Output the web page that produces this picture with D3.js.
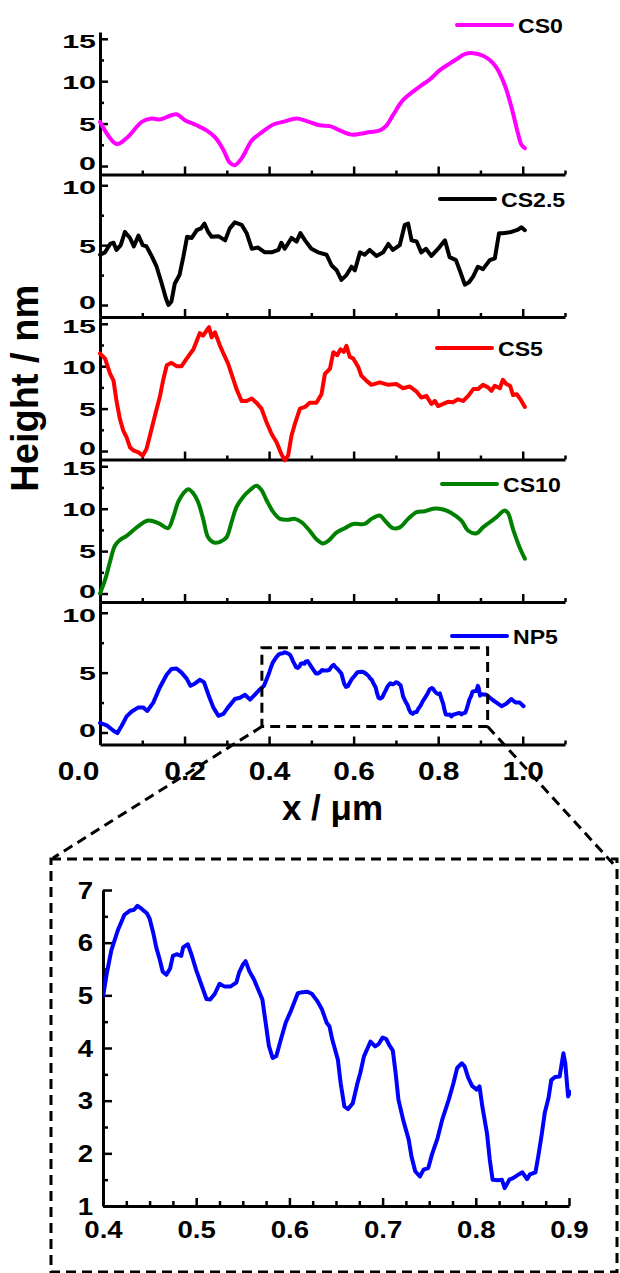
<!DOCTYPE html>
<html>
<head>
<meta charset="utf-8">
<script src="https://cdn.jsdelivr.net/npm/d3@7"></script>
<style>
  html, body { margin: 0; padding: 0; background: #fff; }
  svg { display: block; }
  text { font-family: Arial, "Liberation Sans", sans-serif; font-weight: bold; }
</style>
</head>
<body>
<svg id="chart" width="620" height="1273"></svg>
<script>
// ---------------- DATA ----------------
const seriesNames = ["CS0", "CS2.5", "CS5", "CS10", "NP5"];
const seriesColors = ["#FF00FF", "#000000", "#FF0000", "#008000", "#0000FF"];

const cs0 = [[0,5.2],[0.039,2.6],[0.063,3.3],[0.099,5.2],[0.122,5.6],[0.142,5.5],[0.181,6.1],[0.201,5.4],
  [0.229,4.8],[0.252,4.2],[0.272,3.4],[0.292,1.9],[0.307,0.4],[0.319,0.1],[0.335,0.9],[0.359,3.0],[0.378,3.8],
  [0.41,4.9],[0.433,5.2],[0.465,5.6],[0.489,5.3],[0.52,4.8],[0.544,4.7],[0.567,4.2],[0.595,3.7],[0.615,3.8],
  [0.638,4.0],[0.662,4.2],[0.678,4.8],[0.693,6.0],[0.717,7.8],[0.741,8.8],[0.757,9.4],[0.78,10.2],[0.804,11.3],
  [0.828,12.1],[0.847,12.7],[0.863,13.2],[0.883,13.3],[0.906,13.0],[0.922,12.5],[0.938,11.6],[0.957,9.6],
  [0.973,7.0],[0.989,3.8],[0.997,2.5],[1.005,2.1]];

const cs25 = [[0,4.2],[0.012,4.4],[0.024,5.1],[0.032,5.2],[0.039,4.6],[0.049,5.0],[0.059,6.1],[0.071,5.6],
  [0.08,4.9],[0.091,5.8],[0.101,5.0],[0.11,4.9],[0.122,4.1],[0.134,3.2],[0.146,1.8],[0.156,0.55],[0.162,0.0],
  [0.169,0.3],[0.177,1.8],[0.188,2.5],[0.197,4.0],[0.206,5.7],[0.217,5.6],[0.229,6.25],[0.239,6.4],[0.247,6.8],
  [0.256,6.1],[0.264,5.7],[0.28,5.75],[0.296,5.4],[0.307,6.4],[0.319,6.9],[0.335,6.7],[0.347,6.0],[0.359,4.7],
  [0.374,4.8],[0.39,4.4],[0.406,4.4],[0.422,4.6],[0.429,5.2],[0.437,4.7],[0.453,5.6],[0.465,5.3],[0.474,6.0],
  [0.485,5.4],[0.5,4.7],[0.516,4.4],[0.536,4.2],[0.548,3.3],[0.56,2.9],[0.571,2.1],[0.583,2.5],[0.595,3.2],
  [0.603,2.9],[0.615,4.4],[0.626,4.2],[0.638,4.6],[0.654,4.1],[0.67,4.4],[0.682,5.1],[0.693,4.6],[0.709,5.0],
  [0.721,6.7],[0.729,6.8],[0.737,5.4],[0.749,5.3],[0.76,4.4],[0.771,4.7],[0.784,4.1],[0.8,4.7],[0.816,5.4],
  [0.827,4.0],[0.842,3.75],[0.851,2.9],[0.863,1.7],[0.873,1.9],[0.883,2.4],[0.894,3.2],[0.906,3.0],[0.922,3.75],
  [0.934,3.9],[0.944,6.0],[0.953,6.0],[0.973,6.1],[0.989,6.3],[0.997,6.5],[1.005,6.25]];

const cs5 = [[0,11.5],[0.012,10.9],[0.024,9.1],[0.032,8.3],[0.039,5.9],[0.047,3.8],[0.055,2.4],[0.063,1.6],
  [0.071,0.43],[0.08,0.04],[0.091,-0.16],[0.101,-0.55],[0.11,0.24],[0.118,1.8],[0.13,4.2],[0.142,6.5],[0.15,8.5],
  [0.158,10.1],[0.169,10.4],[0.181,10.0],[0.193,10.0],[0.205,10.9],[0.221,12.0],[0.229,13.0],[0.236,13.9],
  [0.244,13.6],[0.252,14.2],[0.258,14.6],[0.264,13.4],[0.272,14.0],[0.284,12.4],[0.292,11.5],[0.303,10.3],
  [0.315,8.5],[0.323,7.3],[0.335,5.9],[0.347,5.9],[0.359,6.2],[0.37,5.7],[0.382,5.0],[0.394,3.4],[0.406,2.0],
  [0.418,1.0],[0.429,-0.35],[0.437,-1.1],[0.445,-0.55],[0.453,1.8],[0.461,3.2],[0.473,5.0],[0.485,5.2],
  [0.496,5.7],[0.512,5.7],[0.524,6.7],[0.532,9.1],[0.544,9.7],[0.552,11.65],[0.561,11.3],[0.569,12.0],
  [0.577,11.7],[0.583,12.4],[0.591,11.1],[0.599,10.9],[0.611,9.9],[0.618,8.9],[0.63,8.3],[0.642,7.8],
  [0.662,8.1],[0.682,7.8],[0.701,7.9],[0.717,7.4],[0.733,7.6],[0.749,7.0],[0.76,6.3],[0.772,6.5],[0.784,5.55],
  [0.792,5.9],[0.8,5.3],[0.812,5.55],[0.823,5.8],[0.835,5.75],[0.847,6.1],[0.859,5.9],[0.871,6.5],[0.883,7.3],
  [0.894,7.3],[0.906,7.8],[0.918,7.5],[0.926,7.1],[0.934,7.7],[0.946,7.4],[0.953,8.4],[0.961,7.9],[0.97,7.7],
  [0.977,6.6],[0.986,6.7],[0.997,5.9],[1.005,5.2]];

const cs10 = [[0,0],[0.012,1.6],[0.024,3.8],[0.035,5.6],[0.047,6.3],[0.063,6.8],[0.087,7.8],[0.114,8.6],
  [0.138,8.3],[0.161,7.7],[0.173,9.0],[0.185,10.8],[0.197,11.8],[0.209,12.3],[0.221,11.8],[0.232,10.8],
  [0.244,8.8],[0.256,6.6],[0.27,6.0],[0.284,6.1],[0.299,6.6],[0.311,8.4],[0.323,10.2],[0.339,11.4],[0.355,12.2],
  [0.37,12.7],[0.382,12.2],[0.394,11.0],[0.41,9.6],[0.426,8.8],[0.445,8.7],[0.461,8.8],[0.477,8.4],[0.496,7.4],
  [0.512,6.4],[0.528,5.9],[0.54,6.2],[0.56,7.2],[0.579,7.7],[0.599,8.2],[0.626,8.2],[0.642,8.8],[0.662,9.2],
  [0.674,8.6],[0.693,7.7],[0.709,7.8],[0.729,8.8],[0.749,9.6],[0.768,9.7],[0.788,10.0],[0.812,9.9],[0.831,9.5],
  [0.855,8.6],[0.871,7.4],[0.891,7.1],[0.906,7.8],[0.922,8.4],[0.938,9.0],[0.957,9.8],[0.965,9.5],[0.977,7.6],
  [0.993,5.4],[1.005,4.1]];

const np5 = [[0,0.8],[0.016,0.6],[0.032,0.15],[0.041,-0.05],[0.051,0.55],[0.063,1.35],[0.075,1.75],[0.091,2.1],
  [0.102,2.1],[0.112,1.8],[0.126,2.5],[0.142,3.8],[0.158,4.85],[0.169,5.3],[0.181,5.35],[0.193,5.0],[0.205,4.5],
  [0.214,3.9],[0.225,4.1],[0.236,4.4],[0.246,4.2],[0.256,3.2],[0.268,2.1],[0.28,1.4],[0.292,1.55],[0.303,2.1],
  [0.319,2.8],[0.331,2.9],[0.343,3.15],[0.355,2.75],[0.366,3.15],[0.378,3.6],[0.388,3.9],
  [0.4,4.97],[0.404,5.41],[0.409,5.86],[0.416,6.24],[0.423,6.53],[0.429,6.61],[0.433,6.62],[0.437,6.7],
  [0.441,6.65],[0.447,6.56],[0.45,6.46],[0.454,6.18],[0.457,5.92],[0.461,5.67],[0.464,5.45],[0.468,5.39],
  [0.472,5.51],[0.475,5.75],[0.479,5.78],[0.484,5.75],[0.486,5.91],[0.491,5.97],[0.495,5.77],[0.5,5.48],
  [0.505,5.23],[0.511,4.93],[0.515,4.92],[0.52,5.03],[0.525,5.22],[0.53,5.17],[0.537,5.17],[0.543,5.24],
  [0.546,5.43],[0.55,5.58],[0.553,5.65],[0.557,5.46],[0.562,5.3],[0.568,5.05],[0.571,4.92],[0.575,4.42],
  [0.578,4.04],[0.582,3.81],[0.586,3.85],[0.591,4.17],[0.596,4.48],[0.602,4.72],[0.609,5.04],[0.614,5.06],
  [0.619,5.07],[0.624,5.03],[0.63,4.89],[0.635,4.73],[0.64,4.48],[0.643,4.41],[0.646,4.16],[0.652,3.78],
  [0.655,3.33],[0.659,2.89],[0.663,2.84],[0.668,2.95],[0.673,3.33],[0.676,3.52],[0.68,3.84],[0.684,4.0],
  [0.687,4.12],[0.692,4.03],[0.696,4.08],[0.7,4.2],[0.704,4.17],[0.707,4.06],[0.711,3.95],[0.714,3.52],
  [0.717,3.02],[0.722,2.64],[0.728,2.26],[0.731,1.94],[0.735,1.66],[0.74,1.56],[0.744,1.69],[0.749,1.72],
  [0.753,1.98],[0.759,2.29],[0.764,2.64],[0.771,3.02],[0.776,3.33],[0.78,3.62],[0.785,3.71],[0.788,3.65],
  [0.792,3.43],[0.796,3.28],[0.801,3.21],[0.804,3.27],[0.807,2.89],[0.812,2.38],[0.815,1.88],[0.818,1.5],
  [0.824,1.49],[0.828,1.5],[0.831,1.34],[0.836,1.5],[0.84,1.53],[0.846,1.6],[0.85,1.64],[0.855,1.51],
  [0.858,1.6],[0.864,1.64],[0.867,1.94],[0.871,2.39],[0.874,2.77],[0.878,3.05],[0.881,3.39],[0.885,3.45],
  [0.89,3.46],[0.894,3.9],[0.896,3.71],[0.899,3.08],[0.902,3.2],[0.914,3.15],[0.926,2.8],[0.938,2.5],
  [0.95,2.2],[0.961,2.4],[0.973,2.8],[0.983,2.5],[0.993,2.5],[1.002,2.2]];

const seriesData = [cs0, cs25, cs5, cs10, np5];

// axis ticks / labels
const xMajorTicks = [0, 0.2, 0.4, 0.6, 0.8, 1.0];
const xMinorTicks = [0.1, 0.3, 0.5, 0.7, 0.9, 1.1];
const yTicksTall = [0, 5, 10, 15];
const yMinorTall = [2.5, 7.5, 12.5];
const yTicksShort = [0, 5, 10];
const yMinorShort = [2.5, 7.5];
const insetXTicks = [0.4, 0.5, 0.6, 0.7, 0.8, 0.9];
const insetXMinor = [0.425, 0.45, 0.475, 0.525, 0.55, 0.575, 0.625, 0.65, 0.675, 0.725, 0.75, 0.775, 0.825, 0.85, 0.875];
const insetYTicks = [1, 2, 3, 4, 5, 6, 7];
const insetYMinor = [1.5, 2.5, 3.5, 4.5, 5.5, 6.5];
const zoomBox = { x0: 0.383, x1: 0.917, y0: 0.5, y1: 7.08 };
const xTitle = "x / \u03BCm";
const yTitle = "Height / nm";

// ---------------- LAYOUT ----------------
const svg = d3.select("#chart");
const left = 100, right = 565, top0 = 32, panelH = 142.5;
const domainsY = [[-1, 15.8], [-1, 10.9], [-1, 15.8], [-1, 15.8], [-1, 10.9]];
const tallPanel = [true, false, true, true, false];
const legendPos = [[457, 25], [440, 199], [437, 348], [442, 484], [452, 636]];
const curves = [d3.curveCatmullRom.alpha(0.5), d3.curveLinear, d3.curveLinear, d3.curveCatmullRom.alpha(0.5), d3.curveLinear];

const x = d3.scaleLinear().domain([0, 1.1]).range([left, right]);

function styleAxis(g, w) {
  g.attr("font-family", null).attr("font-size", null);
  g.selectAll("path.domain").attr("stroke", "#000").attr("stroke-width", w || 3);
  g.selectAll(".tick line").attr("stroke", "#000").attr("stroke-width", 2.5);
}

const yScales = [];
seriesNames.forEach((name, i) => {
  const pTop = top0 + i * panelH, pBot = pTop + panelH;
  const y = d3.scaleLinear().domain(domainsY[i]).range([pBot, pTop]);
  yScales.push(y);
  const g = svg.append("g");

  // left axis major
  const yMaj = tallPanel[i] ? yTicksTall : yTicksShort;
  const yMin = tallPanel[i] ? yMinorTall : yMinorShort;
  const topTick = yMaj[yMaj.length - 1];
  const ga = g.append("g").attr("transform", `translate(${left},0)`)
    .call(d3.axisLeft(y).tickValues(yMaj).tickSizeInner(-8).tickSizeOuter(0).tickPadding(0).tickFormat(d3.format("d")));
  styleAxis(ga);
  ga.selectAll(".tick text").attr("font-size", 19).attr("fill", "#000")
    .attr("x", 0).attr("dy", "0.36em")
    .attr("transform", d => `translate(-4,${d === 0 ? -3 : (d === topTick ? 1.5 : 0)}) scale(1.6,1)`);
  const gm = g.append("g").attr("transform", `translate(${left},0)`)
    .call(d3.axisLeft(y).tickValues(yMin).tickSizeInner(-4).tickSizeOuter(0).tickFormat(""));
  gm.select("path.domain").remove();
  styleAxis(gm);

  // bottom axis
  const gb = g.append("g").attr("transform", `translate(0,${pBot})`)
    .call(d3.axisBottom(x).tickValues(xMajorTicks).tickSizeInner(-8).tickSizeOuter(0)
      .tickFormat(i === 4 ? d3.format(".1f") : ""));
  styleAxis(gb);
  if (i === 4) {
    gb.selectAll(".tick text").attr("font-size", 26).attr("fill", "#000")
      .attr("y", 0).attr("dy", 0)
      .attr("transform", (d) => `translate(${d === 0 ? -22 : 0},35) scale(1.15,1)`);
  }
  const gbm = g.append("g").attr("transform", `translate(0,${pBot})`)
    .call(d3.axisBottom(x).tickValues(xMinorTicks).tickSizeInner(-4).tickSizeOuter(0).tickFormat(""));
  gbm.select("path.domain").remove();
  styleAxis(gbm);

  // line
  const line = d3.line().x(d => x(d[0])).y(d => y(d[1])).curve(curves[i]);
  g.append("path").datum(seriesData[i])
    .attr("d", line).attr("fill", "none").attr("stroke", seriesColors[i])
    .attr("stroke-width", 4).attr("stroke-linejoin", "round").attr("stroke-linecap", "round");

  // legend
  const [lx, ly] = legendPos[i];
  g.append("line").attr("x1", lx).attr("x2", lx + 55).attr("y1", ly).attr("y2", ly)
    .attr("stroke", seriesColors[i]).attr("stroke-width", 4).attr("stroke-linecap", "round");
  g.append("text").attr("font-size", 21).attr("fill", "#000")
    .attr("transform", `translate(${lx + 61},${ly + 7.5}) scale(1.1,1)`).text(name);
});

// axis titles
svg.append("text").attr("x", (left + right) / 2).attr("y", 820).attr("text-anchor", "middle")
  .attr("font-size", 35).attr("fill", "#000").text(xTitle);
svg.append("text").attr("transform", `translate(38,${top0 + 2.5 * panelH}) rotate(-90)`)
  .attr("text-anchor", "middle").attr("font-size", 38).attr("fill", "#000").text(yTitle);

// zoom box on NP5 panel
const yNP = yScales[4];
const dash = "10,6";
const bx0 = x(zoomBox.x0), bx1 = x(zoomBox.x1), by0 = yNP(zoomBox.y1), by1 = yNP(zoomBox.y0);
svg.append("rect").attr("x", bx0).attr("y", by0).attr("width", bx1 - bx0).attr("height", by1 - by0)
  .attr("fill", "none").attr("stroke", "#000").attr("stroke-width", 3).attr("stroke-dasharray", dash);

// inset frame
const inset = { x0: 51, y0: 859, x1: 617, y1: 1272 };
svg.append("rect").attr("x", inset.x0).attr("y", inset.y0).attr("width", inset.x1 - inset.x0).attr("height", inset.y1 - inset.y0)
  .attr("fill", "none").attr("stroke", "#000").attr("stroke-width", 3).attr("stroke-dasharray", dash);
svg.append("line").attr("x1", bx0).attr("y1", by1).attr("x2", inset.x0 + 2).attr("y2", inset.y0 - 1)
  .attr("stroke", "#000").attr("stroke-width", 3).attr("stroke-dasharray", dash);
svg.append("line").attr("x1", bx1).attr("y1", by1).attr("x2", inset.x1).attr("y2", inset.y0 + 9)
  .attr("stroke", "#000").attr("stroke-width", 3).attr("stroke-dasharray", dash);

// inset chart
const xi = d3.scaleLinear().domain([0.4, 0.9]).range([103, 569]);
const yi = d3.scaleLinear().domain([1, 7]).range([1206, 890]);
const gi = svg.append("g");
const gix = gi.append("g").attr("transform", `translate(0,${yi.range()[0]})`)
  .call(d3.axisBottom(xi).tickValues(insetXTicks).tickSizeInner(-8).tickSizeOuter(0).tickFormat(d3.format(".1f")));
styleAxis(gix);
gix.selectAll(".tick text").attr("font-size", 24).attr("fill", "#000").attr("y", 0).attr("dy", 0)
  .attr("transform", "translate(0,32) scale(1.15,1)");
const gixm = gi.append("g").attr("transform", `translate(0,${yi.range()[0]})`)
  .call(d3.axisBottom(xi).tickValues(insetXMinor).tickSizeInner(-5).tickSizeOuter(0).tickFormat(""));
gixm.select("path.domain").remove();
styleAxis(gixm);
const giy = gi.append("g").attr("transform", `translate(${xi.range()[0]},0)`)
  .call(d3.axisLeft(yi).tickValues(insetYTicks).tickSizeInner(-9).tickSizeOuter(0).tickFormat(d3.format("d")));
styleAxis(giy);
giy.selectAll(".tick text").attr("font-size", 23).attr("fill", "#000").attr("x", 0).attr("dy", "0.36em")
  .attr("transform", "translate(-10,0) scale(1.2,1)");
const giym = gi.append("g").attr("transform", `translate(${xi.range()[0]},0)`)
  .call(d3.axisLeft(yi).tickValues(insetYMinor).tickSizeInner(-5).tickSizeOuter(0).tickFormat(""));
giym.select("path.domain").remove();
styleAxis(giym);

svg.append("clipPath").attr("id", "insetClip").append("rect")
  .attr("x", xi(0.4)).attr("y", 870).attr("width", xi(0.9) - xi(0.4) + 2).attr("height", 340);
const insetData = np5.filter(d => d[0] >= 0.395 && d[0] <= 0.905);
gi.append("path").datum(insetData).attr("clip-path", "url(#insetClip)")
  .attr("d", d3.line().x(d => xi(d[0])).y(d => yi(d[1])))
  .attr("fill", "none").attr("stroke", "#0000FF").attr("stroke-width", 4).attr("stroke-linejoin", "round");
</script>
</body>
</html>
